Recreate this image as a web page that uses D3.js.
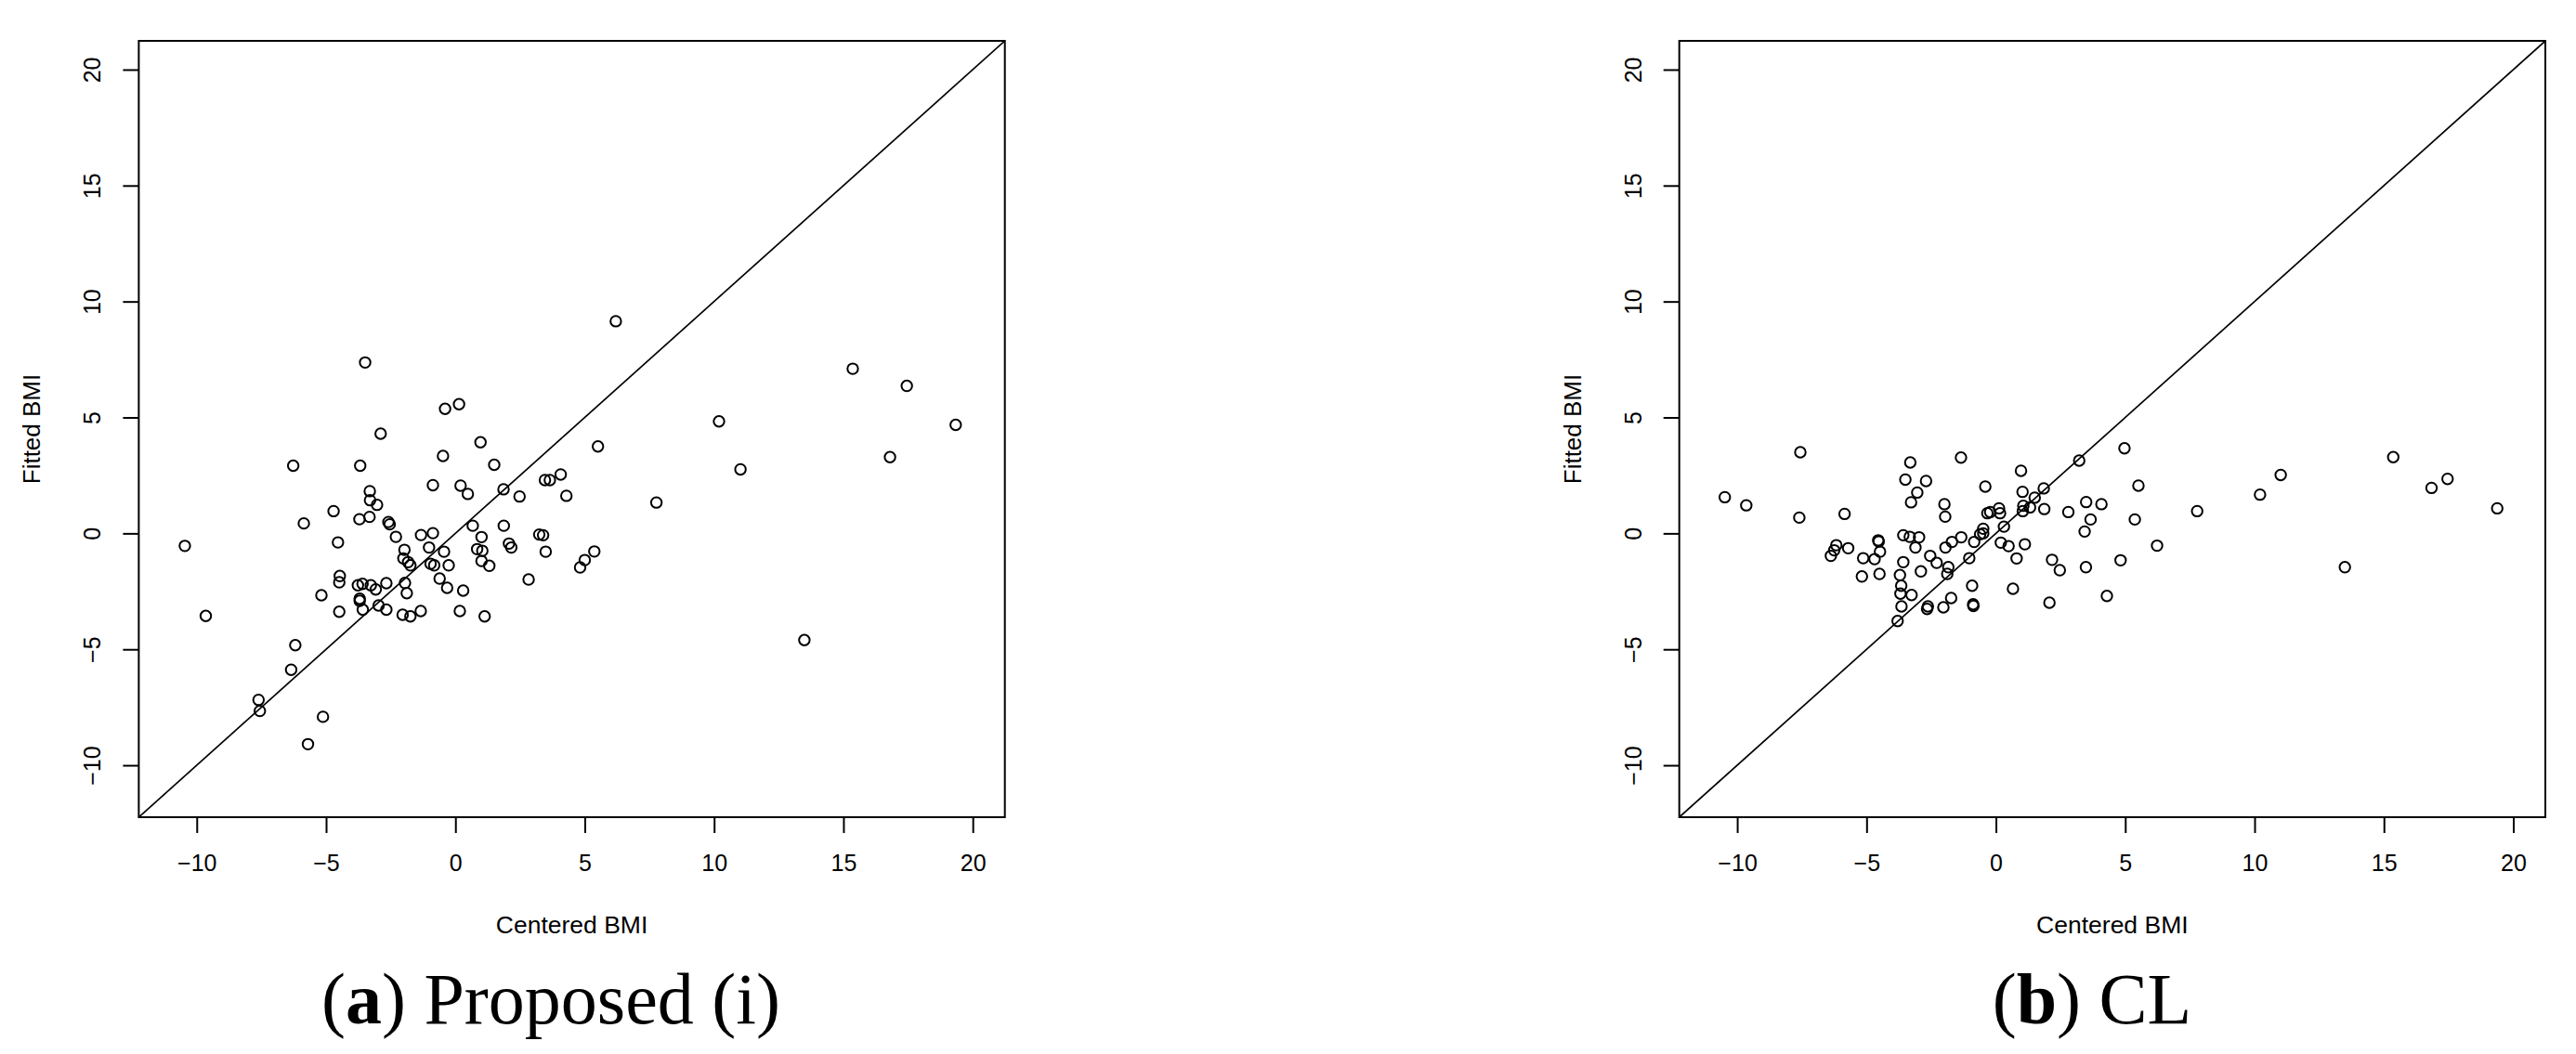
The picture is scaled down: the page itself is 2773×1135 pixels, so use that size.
<!DOCTYPE html>
<html>
<head>
<meta charset="utf-8">
<script src="https://cdn.jsdelivr.net/npm/d3@7"></script>
<style>
  html, body { margin: 0; padding: 0; background: #ffffff; }
  svg { display: block; }
</style>
</head>
<body>
<div id="chart"></div>
<script>
// ---------------- data ----------------
const axisTicks = [-10, -5, 0, 5, 10, 15, 20];
const axisDomain = [-12.24, 21.24];
const xTitle = "Centered BMI";
const yTitle = "Fitted BMI";
const captionLetters = ["a", "b"];
const captionTexts = [" Proposed (i)", " CL"];

// Panel (a): Proposed (i)
const propX = [-3.49,-0.40,0.14,-2.89,0.97,-0.48,1.50,-6.27,-3.68,5.51,-0.87,0.20,0.48,1.86,2.48,3.46,3.65,4.07,4.29,-3.31,
  -3.30,-3.03,-4.71,-5.86,-3.71,-3.32,-2.59,-2.54,-2.30,-1.33,-0.87,0.67,1.87,-4.54,-1.97,-1.02,-0.44,1.01,0.84,1.04,
  3.24,3.39,2.07,2.16,3.49,-2.01,-1.83,-1.74,-0.96,-0.82,-0.26,1.01,1.31,5.37,5.00,4.82,2.83,-4.47,-4.49,-3.77,
  -3.59,-3.27,-3.08,-2.67,-1.95,-1.88,-0.61,-0.32,0.30,-5.18,-3.70,-3.70,-3.58,-2.97,-2.67,-4.49,-2.04,-1.74,-1.34,0.17,
  1.13,-6.19,6.20,15.36,17.45,10.19,19.34,16.80,11.02,7.77,-10.46,-9.65,-6.35,-7.61,-7.56,-5.12,-5.70,13.49];
const propY = [7.37,5.37,5.57,4.30,3.93,3.34,2.96,2.92,2.92,3.75,2.08,2.06,1.70,1.90,1.59,2.30,2.30,2.54,1.62,1.82,
  1.43,1.23,0.96,0.43,0.61,0.71,0.49,0.39,-0.15,-0.07,0.01,0.33,0.33,-0.39,-0.71,-0.61,-0.79,-0.16,-0.68,-0.75,
  -0.05,-0.08,-0.44,-0.61,-0.79,-1.08,-1.24,-1.38,-1.31,-1.38,-1.38,-1.19,-1.40,-0.78,-1.15,-1.47,-1.99,-1.84,-2.11,-2.24,
  -2.18,-2.24,-2.42,-2.15,-2.14,-2.58,-1.95,-2.35,-2.47,-2.67,-2.82,-2.91,-3.29,-3.11,-3.29,-3.38,-3.51,-3.58,-3.35,-3.35,
  -3.58,-4.82,9.15,7.10,6.36,4.83,4.68,3.29,2.76,1.33,-0.54,-3.56,-5.88,-7.18,-7.66,-7.91,-9.09,-4.60];

// Panel (b): CL
const clX = [-5.85,-3.31,-1.35,-3.50,-2.70,-3.04,-3.28,-1.99,-1.96,-0.41,0.97,1.03,3.22,4.97,5.51,1.85,1.50,1.06,1.32,1.04,
  1.87,-0.33,-0.22,0.12,0.16,2.80,3.49,4.08,3.66,3.43,5.37,6.23,0.31,-0.49,-0.61,-0.49,-0.84,-1.34,-1.70,-1.95,
  -2.97,-3.58,-3.33,-3.11,-4.53,-4.48,-5.71,-5.13,-4.69,-5.18,-4.50,-3.58,-2.54,-2.29,-2.90,-1.84,-1.88,-1.03,0.19,0.49,
  1.12,0.80,2.17,2.47,3.48,4.82,-3.71,-3.66,-3.69,-3.26,-3.65,-3.80,-2.63,-2.66,-2.03,-1.73,-0.92,-0.88,-0.87,0.66,
  2.07,4.29,-4.55,-7.56,-10.48,-9.65,-7.60,-6.17,-6.25,-6.38,7.78,10.21,11.01,13.49,15.36,16.84,17.46,19.38];
const clY = [0.84,3.06,3.27,2.32,2.26,1.76,1.34,1.26,0.72,2.02,2.70,1.79,3.14,3.67,2.06,1.94,1.54,1.19,1.12,0.96,
  1.05,0.87,0.92,1.08,0.87,0.92,1.35,1.26,0.60,0.08,0.60,-0.53,0.29,0.20,-0.04,0.00,-0.37,-0.17,-0.37,-0.61,
  -0.17,-0.08,-0.15,-0.61,-0.35,-0.79,-0.64,-1.07,-1.11,-1.86,-1.75,-1.24,-0.97,-1.27,-1.64,-1.46,-1.75,-1.07,-0.40,-0.55,
  -0.47,-1.08,-1.14,-1.59,-1.46,-1.16,-1.80,-2.26,-2.60,-2.66,-3.15,-3.78,-3.15,-3.26,-3.19,-2.79,-2.26,-3.06,-3.13,-2.39,
  -2.99,-2.70,-0.30,3.50,1.56,1.21,0.68,-0.51,-0.73,-0.97,0.96,1.67,2.52,-1.46,3.29,1.96,2.35,1.08];

// ---------------- layout ----------------
const W = 2773, H = 1135;
const panels = [
  { dx: 0,      xs: propX, ys: propY, letter: captionLetters[0], cap: captionTexts[0], capX: 593 },
  { dx: 1658.3, xs: clX,   ys: clY,   letter: captionLetters[1], cap: captionTexts[1], capX: 2252 }
];
const plotL = 149.4, plotR = 1081.7, plotT = 44, plotB = 880;

const svg = d3.select("#chart").append("svg")
  .attr("width", W).attr("height", H)
  .attr("viewBox", `0 0 ${W} ${H}`);
svg.append("rect").attr("width", W).attr("height", H).attr("fill", "#fff");

const x = d3.scaleLinear().domain(axisDomain).range([plotL, plotR]);
const y = d3.scaleLinear().domain(axisDomain).range([plotB, plotT]);
const fmt = d3.format("d");
const sans = "'Liberation Sans', Arial, Helvetica, sans-serif";

panels.forEach((p, i) => {
  const g = svg.append("g").attr("transform", `translate(${p.dx},0)`);

  const clipId = "clip" + i;
  g.append("clipPath").attr("id", clipId)
    .append("rect").attr("x", plotL).attr("y", plotT)
    .attr("width", plotR - plotL).attr("height", plotB - plotT);

  // identity line y = x
  g.append("line")
    .attr("clip-path", `url(#${clipId})`)
    .attr("x1", x(axisDomain[0])).attr("y1", y(axisDomain[0]))
    .attr("x2", x(axisDomain[1])).attr("y2", y(axisDomain[1]))
    .attr("stroke", "#000").attr("stroke-width", 1.7);

  // points
  g.append("g").selectAll("circle")
    .data(d3.range(p.xs.length))
    .join("circle")
    .attr("cx", k => x(p.xs[k]))
    .attr("cy", k => y(p.ys[k]))
    .attr("r", 5.7)
    .attr("fill", "none")
    .attr("stroke", "#000")
    .attr("stroke-width", 2);

  // bottom axis
  const gx = g.append("g").attr("transform", `translate(0,${plotB})`)
    .call(d3.axisBottom(x).tickValues(axisTicks).tickSize(17).tickFormat(fmt));
  gx.select(".domain").remove();
  gx.selectAll(".tick line").attr("stroke", "#000").attr("stroke-width", 2);
  gx.selectAll(".tick text")
    .attr("y", 58).attr("dy", 0)
    .attr("fill", "#000")
    .style("font-family", sans).style("font-size", "25px");

  // left axis
  const gy = g.append("g").attr("transform", `translate(${plotL},0)`)
    .call(d3.axisLeft(y).tickValues(axisTicks).tickSize(17).tickFormat(fmt));
  gy.select(".domain").remove();
  gy.selectAll(".tick line").attr("stroke", "#000").attr("stroke-width", 2);
  gy.selectAll(".tick text")
    .attr("x", 0).attr("y", 0).attr("dy", 0)
    .attr("text-anchor", "middle")
    .attr("transform", `translate(${108.3 - plotL},0) rotate(-90)`)
    .attr("fill", "#000")
    .style("font-family", sans).style("font-size", "25px");

  // box
  g.append("rect")
    .attr("x", plotL).attr("y", plotT)
    .attr("width", plotR - plotL).attr("height", plotB - plotT)
    .attr("fill", "none").attr("stroke", "#000").attr("stroke-width", 2);

  // axis titles
  g.append("text")
    .attr("x", (plotL + plotR) / 2).attr("y", 1005)
    .attr("text-anchor", "middle")
    .style("font-family", sans).style("font-size", "26.5px")
    .text(xTitle);
  g.append("text")
    .attr("transform", `translate(43.3,${(plotT + plotB) / 2}) rotate(-90)`)
    .attr("text-anchor", "middle")
    .style("font-family", sans).style("font-size", "26px")
    .text(yTitle);

  // caption
  const cap = svg.append("text")
    .attr("x", p.capX).attr("y", 1102)
    .attr("text-anchor", "middle")
    .style("font-family", "'Liberation Serif', 'Times New Roman', serif")
    .style("font-size", "78px");
  cap.append("tspan").text("(");
  cap.append("tspan").style("font-weight", "bold").text(p.letter);
  cap.append("tspan").text(")" + p.cap);
});
</script>
</body>
</html>
